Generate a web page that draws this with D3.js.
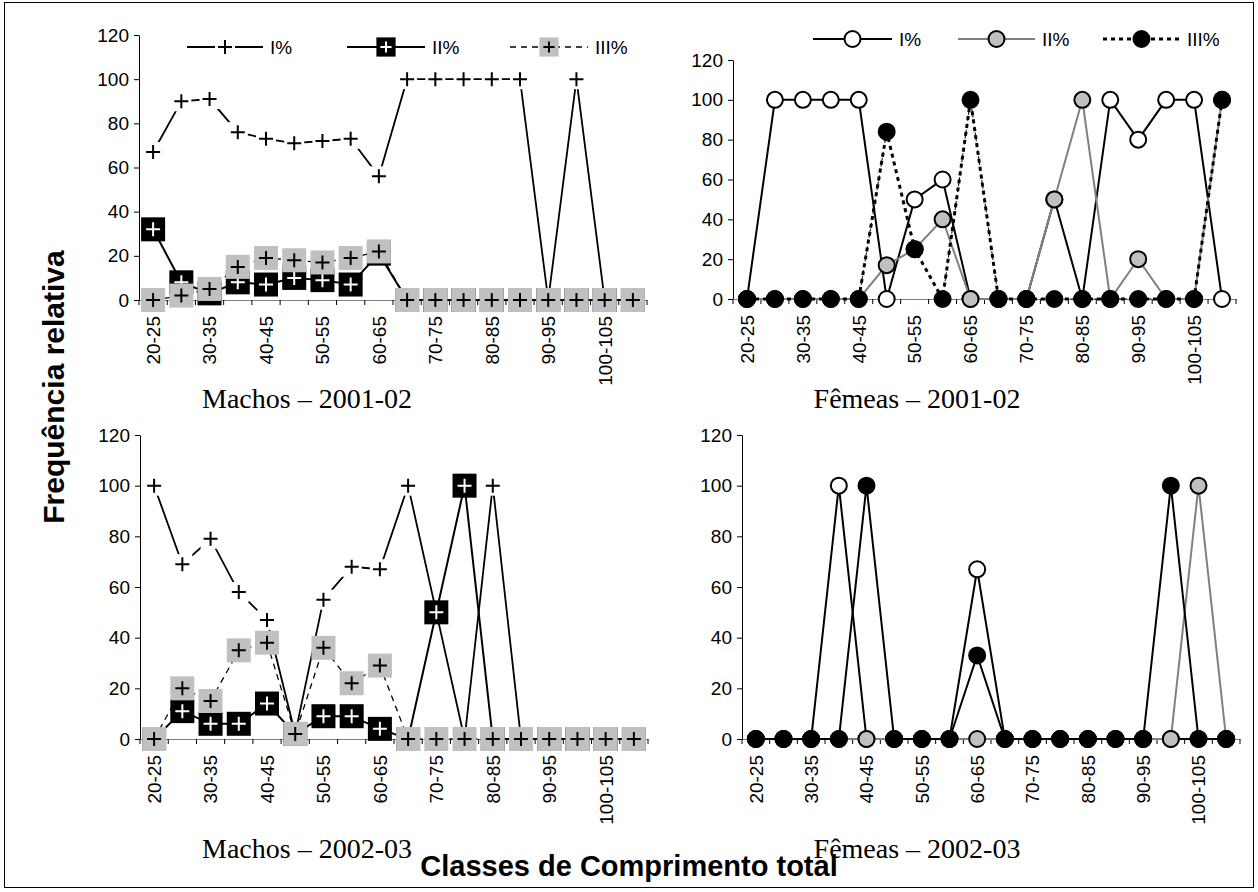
<!DOCTYPE html>
<html>
<head>
<meta charset="utf-8">
<script src="https://d3js.org/d3.v7.min.js"></script>
<style>
  body { margin: 0; background: #fff; }
  text { font-family: Arial, "Liberation Sans", sans-serif; }
</style>
</head>
<body>
<svg id="chart" width="1258" height="892"></svg>
<script>
// size classes (cm)
var classes = ["20-25","25-30","30-35","35-40","40-45","45-50","50-55","55-60","60-65",
               "65-70","70-75","75-80","80-85","85-90","90-95","95-100","100-105","105-110"];
var tickClasses = ["20-25","30-35","40-45","50-55","60-65","70-75","80-85","90-95","100-105"];
var yTicks = [0, 20, 40, 60, 80, 100, 120];
var seriesNames = ["I%", "II%", "III%"];

// Machos 2001-02
var machos01_I   = [67, 90, 91, 76, 73, 71, 72, 73, 56, 100, 100, 100, 100, 100, 0, 100, 0, 0];
var machos01_II  = [32, 8, 3, 8, 7, 10, 9, 7, 21, 0, 0, 0, 0, 0, 0, 0, 0, 0];
var machos01_III = [0, 2, 5, 15, 19, 18, 17, 19, 22, 0, 0, 0, 0, 0, 0, 0, 0, 0];
// Femeas 2001-02
var femeas01_I   = [0, 100, 100, 100, 100, 0, 50, 60, 0, 0, 0, 50, 0, 100, 80, 100, 100, 0];
var femeas01_II  = [0, 0, 0, 0, 0, 17, 25, 40, 0, 0, 0, 50, 100, 0, 20, 0, 0, 100];
var femeas01_III = [0, 0, 0, 0, 0, 84, 25, 0, 100, 0, 0, 0, 0, 0, 0, 0, 0, 100];
// thin dashed copy of III% without the 50-55 class
var femeas01_IIIb = [0, 0, 0, 0, 0, 84, null, 0, 100, 0, 0, 0, 0, 0, 0, 0, 0, 100];
// Machos 2002-03
var machos02_I   = [100, 69, 79, 58, 47, 2, 55, 68, 67, 100, 50, 0, 100, 0, 0, 0, 0, 0];
var machos02_II  = [0, 11, 6, 6, 14, 2, 9, 9, 4, 0, 50, 100, 0, 0, 0, 0, 0, 0];
var machos02_III = [0, 20, 15, 35, 38, 2, 36, 22, 29, 0, 0, 0, 0, 0, 0, 0, 0, 0];
// Femeas 2002-03
var femeas02_I   = [0, 0, 0, 100, 0, 0, 0, 0, 67, 0, 0, 0, 0, 0, 0, 0, 0, 0];
var femeas02_II  = [0, 0, 0, 0, 0, 0, 0, 0, 0, 0, 0, 0, 0, 0, 0, 0, 100, 0];
var femeas02_III = [0, 0, 0, 0, 100, 0, 0, 0, 33, 0, 0, 0, 0, 0, 0, 100, 0, 0];

var svg = d3.select("#chart");

// outer frame
svg.append("rect")
  .attr("x", 4.5).attr("y", 2.5).attr("width", 1249).attr("height", 885)
  .attr("fill", "none").attr("stroke", "black").attr("stroke-width", 1);

// marker drawing helpers
function crossPath(s) { return "M" + (-s) + ",0H" + s + "M0," + (-s) + "V" + s; }

function drawMarker(g, type, cx, cy, sc) {
  sc = sc || 1;
  var h = 12 * sc, c = 7 * sc;
  var m = g.append("g").attr("transform", "translate(" + cx + "," + cy + ")");
  if (type == "plus") {
    m.append("rect").attr("x", -10).attr("y", -10).attr("width", 20).attr("height", 20).attr("fill", "white");
    m.append("path").attr("d", crossPath(7)).attr("stroke", "black").attr("stroke-width", 2);
  } else if (type == "blackbox") {
    m.append("rect").attr("x", -h).attr("y", -h).attr("width", 2 * h).attr("height", 2 * h).attr("fill", "black");
    m.append("path").attr("d", crossPath(c)).attr("stroke", "white").attr("stroke-width", 2);
  } else if (type == "greybox") {
    m.append("rect").attr("x", -h).attr("y", -h).attr("width", 2 * h).attr("height", 2 * h).attr("fill", "#c0c0c0");
    m.append("path").attr("d", crossPath(c)).attr("stroke", "black").attr("stroke-width", 2);
  } else {
    m.append("circle").attr("r", 8).attr("fill", type).attr("stroke", "black").attr("stroke-width", 2);
  }
}

var maleStyles = [
  {marker: "plus",     stroke: "black", width: 1.8, dash: null},
  {marker: "blackbox", stroke: "black", width: 2,   dash: null},
  {marker: "greybox",  stroke: "black", width: 1.3, dash: "6,5"}
];
var femaleStyles01 = [
  {marker: "white",   stroke: "black",   width: 2, dash: null},
  {marker: "#c0c0c0", stroke: "#808080", width: 2, dash: null},
  {marker: "black",   stroke: "black",   width: 3, dash: "4,4"}
];
var femaleStyles02 = [
  {marker: "white",   stroke: "black",   width: 2, dash: null},
  {marker: "#c0c0c0", stroke: "#808080", width: 2, dash: null},
  {marker: "black",   stroke: "black",   width: 2, dash: null}
];

function drawPanel(p) {
  var x = d3.scaleBand().domain(classes).range([p.x0, p.x1]);
  var y = d3.scaleLinear().domain([0, 120]).range([p.y0, p.y1]);
  var g = svg.append("g");

  // y axis
  var ya = g.append("g")
    .attr("transform", "translate(" + p.x0 + ",0)")
    .call(d3.axisLeft(y).tickValues(yTicks).tickSize(5).tickSizeOuter(0).tickPadding(5));
  ya.select(".domain").attr("stroke", "black");
  ya.selectAll("text").style("font-size", "19px").style("font-family", "Arial, 'Liberation Sans'").attr("fill", "black");

  // x axis
  var xa = g.append("g")
    .attr("transform", "translate(0," + y(0) + ")")
    .call(d3.axisBottom(x).tickValues(tickClasses).tickSize(0).tickSizeOuter(0));
  xa.select(".domain").attr("stroke", "#808080");
  xa.selectAll("text")
    .style("font-size", "19px").style("font-family", "Arial, 'Liberation Sans'").attr("fill", "black")
    .attr("transform", "rotate(-90)")
    .attr("text-anchor", "end")
    .attr("x", -16).attr("y", 0).attr("dy", "0.36em");
  // tick marks between categories
  var bounds = classes.map(function(d) { return x(d); }).concat([p.x1]);
  g.selectAll(null).data(bounds).enter().append("line")
    .attr("x1", function(d) { return d; }).attr("x2", function(d) { return d; })
    .attr("y1", y(0)).attr("y2", y(0) + 5)
    .attr("stroke", "black").attr("stroke-width", 1);

  var cx = function(i) { return x(classes[i]) + x.bandwidth() / 2; };

  // extra thin dashed line (drawn under the series)
  if (p.extra) {
    var l2 = d3.line().defined(function(d) { return d !== null; })
      .x(function(d, i) { return cx(i); }).y(function(d) { return y(d); });
    g.append("path").datum(p.extra)
      .attr("d", l2).attr("fill", "none")
      .attr("stroke", "black").attr("stroke-width", 1).attr("stroke-dasharray", "3,3");
  }

  // series, drawn one after another (line then markers)
  var line = d3.line().x(function(d, i) { return cx(i); }).y(function(d) { return y(d); });
  p.series.forEach(function(vals, k) {
    var st = p.styles[k];
    g.append("path").datum(vals)
      .attr("d", line)
      .attr("fill", "none")
      .attr("stroke", st.stroke)
      .attr("stroke-width", st.width)
      .attr("stroke-dasharray", st.dash);
    vals.forEach(function(v, i) { drawMarker(g, st.marker, cx(i), y(v)); });
  });

  // panel title
  svg.append("text")
    .attr("x", p.titleX).attr("y", p.titleY)
    .attr("text-anchor", "middle")
    .style("font-family", "'Liberation Serif', 'Times New Roman', serif")
    .style("font-size", "28px")
    .text(p.title);
}

function drawLegend(ly, styles, items) {
  var g = svg.append("g");
  items.forEach(function(it, k) {
    var st = styles[k];
    g.append("line")
      .attr("x1", it.x1).attr("x2", it.x2).attr("y1", ly).attr("y2", ly)
      .attr("stroke", st.stroke).attr("stroke-width", st.width).attr("stroke-dasharray", st.dash);
    drawMarker(g, st.marker, (it.x1 + it.x2) / 2, ly, 0.8);
    g.append("text")
      .attr("x", it.x2 + 7).attr("y", ly).attr("dy", "0.36em")
      .style("font-size", "19px")
      .text(seriesNames[k]);
  });
}

drawPanel({x0: 139, x1: 647, y0: 300, y1: 35,
  series: [machos01_I, machos01_II, machos01_III], styles: maleStyles,
  title: "Machos \u2013 2001-02", titleX: 307, titleY: 408});
drawPanel({x0: 733, x1: 1236, y0: 299, y1: 60,
  series: [femeas01_I, femeas01_II, femeas01_III], styles: femaleStyles01, extra: femeas01_IIIb,
  title: "F\u00eameas \u2013 2001-02", titleX: 917, titleY: 408});
drawPanel({x0: 140, x1: 648, y0: 739, y1: 435,
  series: [machos02_I, machos02_II, machos02_III], styles: maleStyles,
  title: "Machos \u2013 2002-03", titleX: 307, titleY: 858});
drawPanel({x0: 742, x1: 1240, y0: 739, y1: 435,
  series: [femeas02_I, femeas02_II, femeas02_III], styles: femaleStyles02,
  title: "F\u00eameas \u2013 2002-03", titleX: 917, titleY: 858});

drawLegend(47, maleStyles, [{x1: 187, x2: 263}, {x1: 347, x2: 425}, {x1: 510, x2: 588}]);
drawLegend(39, femaleStyles01, [{x1: 813, x2: 892}, {x1: 958, x2: 1035}, {x1: 1103, x2: 1180}]);

// axis titles
svg.append("text")
  .attr("transform", "translate(64,387) rotate(-90)")
  .attr("text-anchor", "middle")
  .style("font-size", "30px").style("font-weight", "bold")
  .text("Frequ\u00eancia relativa");
svg.append("text")
  .attr("x", 629).attr("y", 876)
  .attr("text-anchor", "middle")
  .style("font-size", "29px").style("font-weight", "bold")
  .text("Classes de Comprimento total");
</script>
</body>
</html>
